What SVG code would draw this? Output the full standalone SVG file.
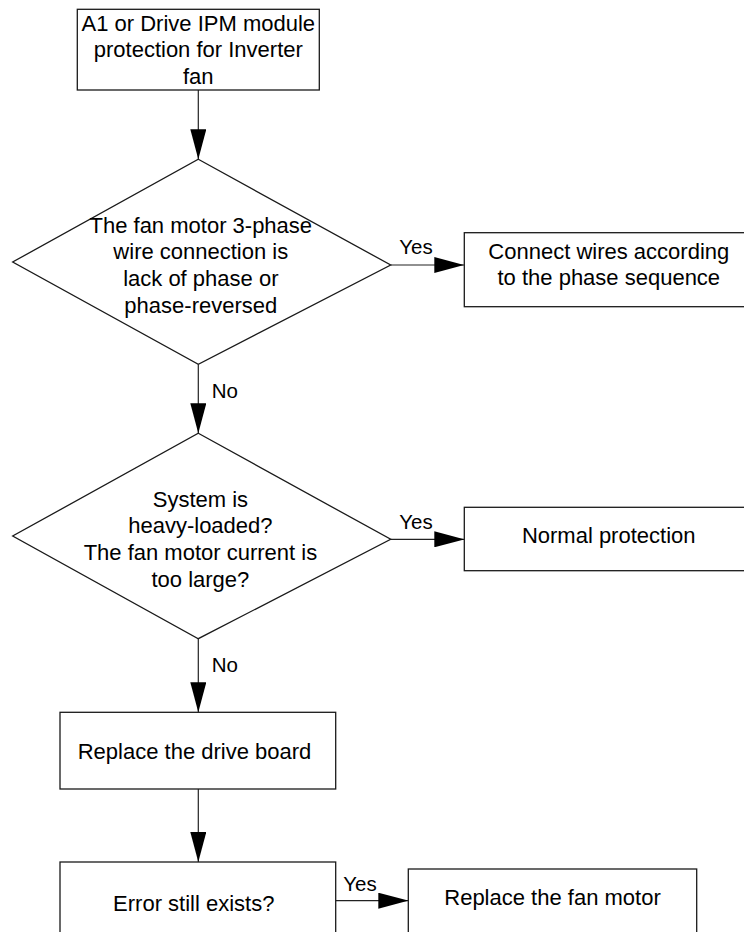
<svg xmlns="http://www.w3.org/2000/svg" width="744" height="932" viewBox="0 0 744 932">
<defs>
<marker id="arr" markerUnits="userSpaceOnUse" markerWidth="30" markerHeight="16" refX="30" refY="8" orient="auto">
<path d="M0,0 L30,8 L0,16 z" fill="#000"/>
</marker>
<style>
.box{fill:#fff;stroke:#1a1a1a;stroke-width:1.3}
.t{font-family:"Liberation Sans",Arial,sans-serif;font-size:22px;fill:#000;text-anchor:middle}
.lbl{font-family:"Liberation Sans",Arial,sans-serif;font-size:20.5px;fill:#000}
.c{fill:none;stroke:#222;stroke-width:1.2;marker-end:url(#arr)}
</style>
</defs>
<rect width="744" height="932" fill="#fff"/>
<g id="connectors">
<line class="c" x1="198.3" y1="90" x2="198.3" y2="159.3"/>
<line class="c" x1="390.7" y1="265" x2="464.3" y2="265"/>
<line class="c" x1="198.3" y1="364.3" x2="198.3" y2="433.3"/>
<line class="c" x1="390.7" y1="539.3" x2="464.3" y2="539.3"/>
<line class="c" x1="198.3" y1="638.7" x2="198.3" y2="712.3"/>
<line class="c" x1="198.3" y1="789" x2="198.3" y2="862"/>
<line class="c" x1="335.7" y1="900.7" x2="408.3" y2="900.7"/>
<text class="lbl" x="399.3" y="254.3">Yes</text>
<text class="lbl" x="211.7" y="398">No</text>
<text class="lbl" x="399.3" y="529">Yes</text>
<text class="lbl" x="211.7" y="671.7">No</text>
<text class="lbl" x="343.3" y="890.7">Yes</text>
</g>
<g id="start">
<rect class="box" x="77.3" y="9.3" width="242" height="80.7"/>
<text class="t" x="198.3" y="30.7">A1 or Drive IPM module</text>
<text class="t" x="198.3" y="57.3">protection for Inverter</text>
<text class="t" x="198.3" y="84">fan</text>
</g>
<g id="decision1">
<polygon class="box" points="198.3,159.3 390.7,265 198.3,364.3 12.7,262"/>
<text class="t" x="200.8" y="232.7">The fan motor 3-phase</text>
<text class="t" x="200.8" y="259.3">wire connection is</text>
<text class="t" x="200.8" y="286">lack of phase or</text>
<text class="t" x="200.8" y="312.7">phase-reversed</text>
</g>
<g id="connect-wires">
<rect class="box" x="464.3" y="232.7" width="290" height="74"/>
<text class="t" x="608.8" y="259">Connect wires according</text>
<text class="t" x="608.8" y="285.3">to the phase sequence</text>
</g>
<g id="decision2">
<polygon class="box" points="198.3,433.3 390.7,539.3 198.3,638.7 12.7,536"/>
<text class="t" x="200.4" y="506.7">System is</text>
<text class="t" x="200.4" y="533.3">heavy-loaded?</text>
<text class="t" x="200.4" y="560">The fan motor current is</text>
<text class="t" x="200.4" y="586.7">too large?</text>
</g>
<g id="normal-protection">
<rect class="box" x="464.3" y="507.3" width="290" height="63.4"/>
<text class="t" x="608.7" y="543.3">Normal protection</text>
</g>
<g id="replace-board">
<rect class="box" x="60" y="712.3" width="275.7" height="76.7"/>
<text class="t" x="194.5" y="759">Replace the drive board</text>
</g>
<g id="error-exists">
<rect class="box" x="60" y="862" width="275.7" height="100"/>
<text class="t" x="193.8" y="910.7">Error still exists?</text>
</g>
<g id="replace-fan">
<rect class="box" x="408.3" y="869" width="288.4" height="100"/>
<text class="t" x="552.5" y="905">Replace the fan motor</text>
</g>
</svg>
